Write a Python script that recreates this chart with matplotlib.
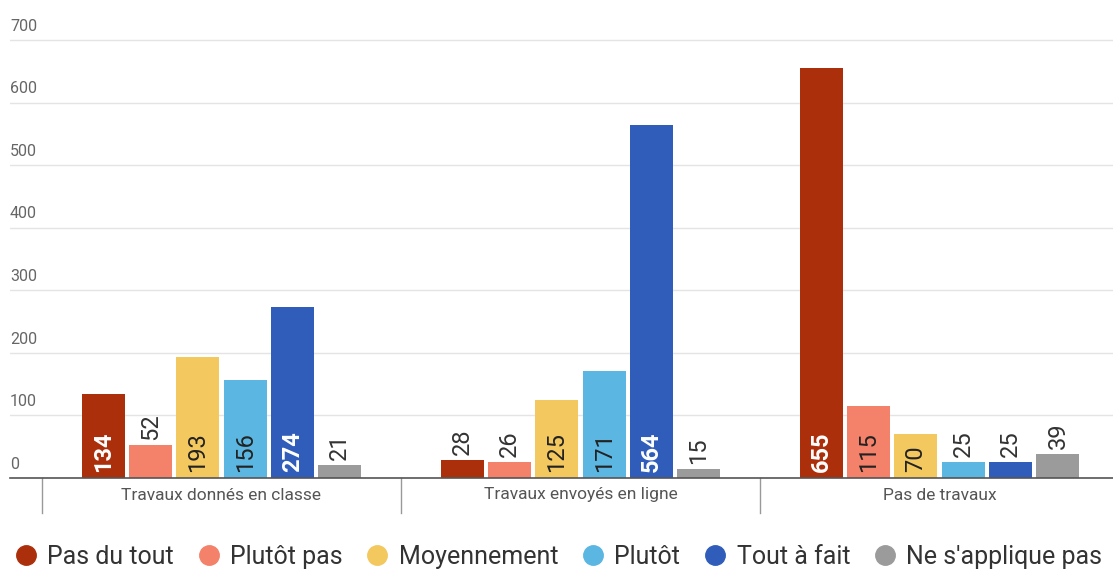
import numpy as np
import matplotlib.pyplot as plt
from matplotlib.lines import Line2D

groups = ["Travaux donnés en classe", "Travaux envoyés en ligne", "Pas de travaux"]
answers = ["Pas du tout", "Plutôt pas", "Moyennement", "Plutôt", "Tout à fait", "Ne s'applique pas"]
pas_du_tout = [134, 28, 655]
plutot_pas = [52, 26, 115]
moyennement = [193, 125, 70]
plutot = [156, 171, 25]
tout_a_fait = [274, 564, 25]
ne_s_applique_pas = [21, 15, 39]
series = [pas_du_tout, plutot_pas, moyennement, plutot, tout_a_fait, ne_s_applique_pas]

colors = ["#ac2f0b", "#f4826a", "#f3c85f", "#5cb6e2", "#2f5db9", "#9b9b9b"]
inside_text = ["white", "#222222", "#222222", "#222222", "white", "#222222"]
inside_bold = [True, False, False, False, True, False]

plt.rcParams['font.family'] = ['Roboto', 'DejaVu Sans']

fig = plt.figure(figsize=(11.13, 5.79), dpi=100)
ax = fig.add_axes([10 / 1113, 1 - 478 / 579, 1 - 10 / 1113, (478 - 15) / 579])

pitch = 0.1318
width = 0.12
x = np.arange(len(groups))
ymax = 740
for i, vals in enumerate(series):
    pos = x + (i - 2.5) * pitch
    ax.bar(pos, vals, width, color=colors[i], zorder=3)
    for px, v in zip(pos, vals):
        if v > 60:
            ax.text(px, 10, str(v), rotation=90, ha='center', va='bottom',
                    fontsize=17, color=inside_text[i],
                    fontweight='bold' if inside_bold[i] else 'normal', zorder=4)
        else:
            ax.text(px, v + 8, str(v), rotation=90, ha='center', va='bottom',
                    fontsize=17, color='#333333', zorder=4)

ax.set_xlim(-0.589, 2.483)
ax.set_ylim(0, ymax)
ax.set_yticks(range(0, 701, 100))
ax.yaxis.grid(True, color='#e4e4e4', linewidth=1, zorder=0)
ax.tick_params(length=0, labelleft=False, labelbottom=False)
ax.set_xticks([])
for s in ['top', 'right', 'left']:
    ax.spines[s].set_visible(False)
ax.spines['bottom'].set_color('#555555')
ax.spines['bottom'].set_linewidth(1.2)
ax.spines['bottom'].set_zorder(5)

for t in range(0, 701, 100):
    ax.text(0.0, t + 10, str(t), transform=ax.get_yaxis_transform(),
            ha='left', va='bottom', fontsize=11.5, color='#666666')

# group separators under the axis
sep = ax.get_xaxis_transform()
for b in [-0.5, 0.5, 1.5]:
    ax.plot([b, b], [0, -35 / 463], color='#999999', linewidth=1,
            transform=sep, clip_on=False)
for g, name in zip(x, groups):
    ax.text(g, -17 / 463, name, transform=sep, ha='center', va='center',
            fontsize=12.5, color='#555555')

handles = [Line2D([], [], marker='o', linestyle='', markersize=14,
                  markerfacecolor=c, markeredgecolor=c) for c in colors]
fig.legend(handles, answers, loc='center', bbox_to_anchor=(0.5, 1 - 557 / 579),
           ncol=6, frameon=False, fontsize=18, handletextpad=0.25,
           columnspacing=0.8, handlelength=1.2, labelcolor='#333333')

fig.savefig('out.png', dpi=100)
